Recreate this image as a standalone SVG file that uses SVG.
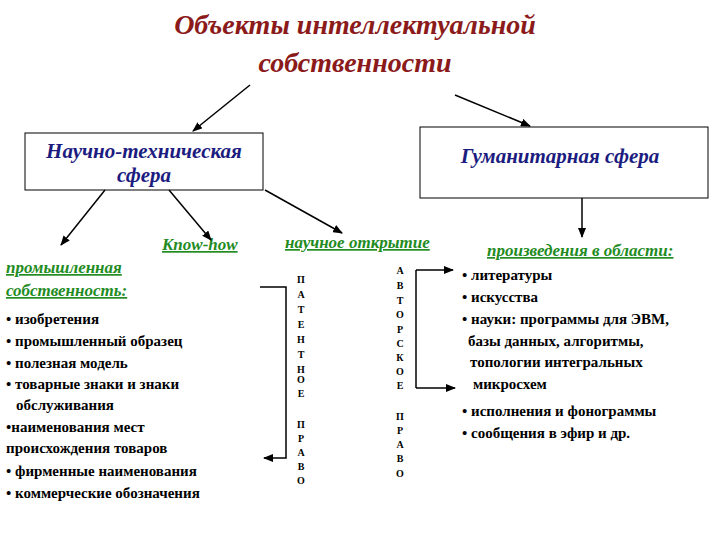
<svg xmlns="http://www.w3.org/2000/svg" width="720" height="540" viewBox="0 0 720 540">
<defs><marker id="a" markerWidth="10" markerHeight="8" refX="9" refY="4" orient="auto" markerUnits="userSpaceOnUse"><path d="M0,0L10,4L0,8z" fill="#000"/></marker></defs>
<style>
text{font-family:'Liberation Serif','DejaVu Serif','Times New Roman',serif}
.t{font-style:italic;font-weight:bold;fill:#8b1a1a;font-size:28px}
.b{font-style:italic;font-weight:bold;fill:#1c1c80;font-size:21px}
.g{font-style:italic;font-weight:bold;fill:#228b22;font-size:17px;text-decoration:underline}
.k text{font-size:15px;font-weight:bold;fill:#000}
.v text{font-size:10px;font-weight:bold;fill:#000;text-anchor:middle}
.c{stroke:#000;stroke-width:1.5;fill:none}
</style>
<rect width="720" height="540" fill="#fff"/>
<g id="title"><text class="t" x="355" y="34" text-anchor="middle">Объекты интеллектуальной</text><text class="t" x="355" y="72" text-anchor="middle">собственности</text></g>
<g id="sci"><rect x="25" y="133" width="238" height="57" fill="#fff" stroke="#000"/><text class="b" x="144" y="158" text-anchor="middle">Научно-техническая</text><text class="b" x="144" y="182" text-anchor="middle">сфера</text></g>
<g id="hum"><rect x="420" y="127" width="288" height="71" fill="#fff" stroke="#000"/><text class="b" x="560" y="163" text-anchor="middle">Гуманитарная сфера</text></g>
<g id="knowhow"><text class="g" x="162" y="250">Know-how</text></g>
<g id="discovery"><text class="g" x="285" y="248">научное открытие</text></g>
<g id="works"><text class="g" x="487" y="256">произведения в области:</text>
<g class="k"><text x="462" y="280">• литературы</text><text x="462" y="302">• искусства</text><text x="462" y="324">• науки: программы для ЭВМ,</text><text x="468" y="346">базы данных, алгоритмы,</text><text x="470" y="367">топологии интегральных</text><text x="473" y="389">микросхем</text><text x="462" y="416">• исполнения и фонограммы</text><text x="462" y="438">• сообщения в эфир и др.</text></g></g>
<g id="industrial"><text class="g" x="6" y="273">промышленная</text><text class="g" x="6" y="296">собственность:</text>
<g class="k"><text x="6" y="324">• изобретения</text><text x="6" y="346">• промышленный образец</text><text x="6" y="368">• полезная модель</text><text x="6" y="389">• товарные знаки и знаки</text><text x="16" y="410">обслуживания</text><text x="6" y="432">•наименования мест</text><text x="6" y="453">происхождения товаров</text><text x="6" y="476">• фирменные наименования</text><text x="6" y="498">• коммерческие обозначения</text></g></g>
<g id="patent" class="v"><text x="301" y="283">П</text><text x="301" y="298">А</text><text x="301" y="313">Т</text><text x="301" y="328">Е</text><text x="301" y="343">Н</text><text x="301" y="358">Т</text><text x="301" y="373">Н</text><text x="301" y="383">О</text><text x="301" y="397">Е</text><text x="301" y="428">П</text><text x="301" y="442">Р</text><text x="301" y="456">А</text><text x="301" y="470">В</text><text x="301" y="484">О</text></g>
<g id="author" class="v"><text x="400" y="274">А</text><text x="400" y="289">В</text><text x="400" y="304">Т</text><text x="400" y="318">О</text><text x="400" y="333">Р</text><text x="400" y="347">С</text><text x="400" y="361">К</text><text x="400" y="375">О</text><text x="400" y="389">Е</text><text x="400" y="420">П</text><text x="400" y="434">Р</text><text x="400" y="448">А</text><text x="400" y="462">В</text><text x="400" y="477">О</text></g>
<g id="connectors" class="c">
<line x1="250" y1="85" x2="193" y2="131" marker-end="url(#a)"/>
<line x1="455" y1="95" x2="530" y2="126" marker-end="url(#a)"/>
<line x1="105" y1="190" x2="61" y2="245" marker-end="url(#a)"/>
<line x1="169" y1="190" x2="211" y2="240" marker-end="url(#a)"/>
<line x1="265" y1="190" x2="342" y2="233" marker-end="url(#a)"/>
<line x1="582" y1="198" x2="582" y2="237" marker-end="url(#a)"/>
<polyline points="260,287 286,287 286,458 264,458" marker-end="url(#a)"/>
<line x1="416" y1="270" x2="416" y2="388"/>
<line x1="416" y1="270" x2="453" y2="270" marker-end="url(#a)"/>
<line x1="416" y1="388" x2="455" y2="388" marker-end="url(#a)"/>
</g>
</svg>
